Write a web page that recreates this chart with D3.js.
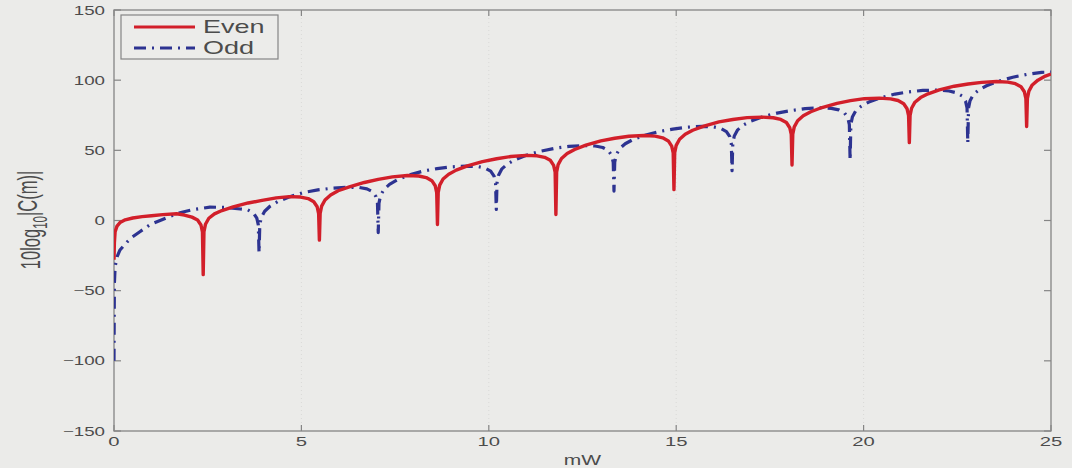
<!DOCTYPE html>
<html><head><meta charset="utf-8">
<script src="https://cdn.jsdelivr.net/npm/d3@7"></script>
<style>body{margin:0;background:#ebebe9;}svg{display:block;}</style>
</head><body>
<svg id="chart" width="1072" height="468"></svg>
<script>
const xTicks = [0, 5, 10, 15, 20, 25];
const yTicks = [-150, -100, -50, 0, 50, 100, 150];
const seriesNames = ["Even", "Odd"];
const xLabel = "mW";

const evenSeries = [[0,-28],[0.01,-16],[0.03,-8],[0.08,-4],[0.16,-1.5],[0.3,0.5],[0.5,1.8],[0.75,2.8],[1.0,3.4],[1.3,4.2],[1.67,4.8],[1.88,3.9],[2.08,2.4],[2.23,0.4],[2.32,-3.2],[2.36,-8.1],[2.38,-38.6],[2.40,-7.9],[2.44,-2.7],[2.53,1.6],[2.68,4.7],[2.88,7.1],[3.18,9.7],[3.58,12.5],[3.95,14.3],[4.33,16.1],[4.68,17],[4.98,16.7],[5.18,15.6],[5.33,13.4],[5.42,9.8],[5.46,4.9],[5.48,-14],[5.50,5],[5.54,10.2],[5.63,14.6],[5.78,18.2],[5.98,21.2],[6.28,23.9],[6.68,27.1],[7.05,29.3],[7.43,31.1],[7.83,32.1],[8.13,31.7],[8.33,30.6],[8.48,28.4],[8.57,24.8],[8.61,19.9],[8.63,-2.9],[8.65,20],[8.69,25.2],[8.78,29.6],[8.93,33],[9.13,35.9],[9.43,38.9],[9.83,41.9],[10.21,44],[10.59,45.6],[10.99,46.4],[11.29,46.1],[11.49,45],[11.64,42.9],[11.73,39.3],[11.77,34.5],[11.79,4.3],[11.81,34.6],[11.85,39.8],[11.94,44.2],[12.09,47.7],[12.29,50.6],[12.59,53.7],[12.99,56.7],[13.36,58.6],[13.74,60],[14.14,60.6],[14.44,60.1],[14.64,58.9],[14.79,56.7],[14.88,53],[14.92,48.2],[14.94,22],[14.96,48.3],[15.0,53.5],[15.09,57.9],[15.24,61.4],[15.44,64.3],[15.74,67.3],[16.14,70.3],[16.51,72],[16.89,73.3],[17.29,73.7],[17.59,73.2],[17.79,72],[17.94,69.8],[18.03,66.1],[18.07,61.3],[18.09,39.5],[18.11,61.5],[18.15,66.7],[18.24,71.1],[18.39,74.6],[18.59,77.5],[18.89,80.5],[19.29,83.5],[19.65,85.4],[20.02,86.8],[20.42,87.2],[20.72,86.7],[20.92,85.5],[21.07,83.2],[21.16,79.6],[21.2,74.7],[21.22,55.5],[21.24,74.8],[21.28,80],[21.37,84.3],[21.52,87.6],[21.72,90.3],[22.02,93.1],[22.42,95.7],[22.79,97.3],[23.15,98.4],[23.55,99],[23.85,98.6],[24.05,97.5],[24.2,95.3],[24.29,91.7],[24.33,86.9],[24.35,67],[24.37,87],[24.41,92.2],[24.5,96.6],[24.65,100],[24.85,102.9],[25,104.4]];

const oddSeries = [[0,-100],[0.01,-45],[0.03,-33],[0.08,-26],[0.16,-21],[0.29,-17],[0.45,-12.5],[0.69,-8],[0.96,-3],[1.23,0],[1.5,3],[1.76,5.5],[2.1,7.8],[2.56,9.5],[3.0,9.3],[3.37,8.2],[3.57,7.6],[3.72,5.4],[3.81,1.7],[3.85,-3.1],[3.87,-23],[3.89,-3],[3.93,2.2],[4.02,6.6],[4.17,10.3],[4.37,13.5],[4.67,16.8],[5.07,20],[5.44,21.8],[5.85,23.1],[6.25,23.7],[6.55,23.5],[6.75,22.5],[6.9,20.5],[6.99,17],[7.03,12.1],[7.05,-8.6],[7.07,12.4],[7.11,17.6],[7.2,22.1],[7.35,25.7],[7.55,28.8],[7.85,32.2],[8.25,35.2],[8.62,37],[9.0,38.2],[9.4,38.8],[9.7,38.5],[9.9,37.4],[10.05,35.2],[10.14,31.6],[10.18,26.8],[10.2,7.9],[10.22,27],[10.26,32.3],[10.35,36.8],[10.5,40.3],[10.7,43.3],[11.0,46.5],[11.4,49.5],[11.77,51.5],[12.14,52.8],[12.54,53.4],[12.84,53.1],[13.04,52],[13.19,49.9],[13.28,46.3],[13.32,41.4],[13.34,21],[13.36,41.6],[13.4,46.8],[13.49,51.2],[13.64,54.7],[13.84,57.6],[14.14,60.6],[14.54,63.4],[14.91,65.1],[15.29,66.5],[15.69,67.1],[15.99,66.8],[16.19,65.6],[16.34,63.4],[16.43,59.7],[16.47,54.9],[16.49,35.5],[16.51,55],[16.55,60.2],[16.64,64.6],[16.79,68],[16.99,70.8],[17.29,73.7],[17.69,76.5],[18.06,78.3],[18.44,79.7],[18.84,80.3],[19.14,79.9],[19.34,78.8],[19.49,76.7],[19.58,73.1],[19.62,68.3],[19.64,43],[19.66,68.4],[19.7,73.7],[19.79,78.1],[19.94,81.5],[20.14,84.4],[20.44,87.3],[20.84,90.1],[21.21,91.7],[21.58,92.7],[21.98,92.9],[22.28,92.3],[22.48,91],[22.63,88.7],[22.72,85],[22.76,80.2],[22.78,55],[22.8,80.3],[22.84,85.4],[22.93,89.8],[23.08,93.1],[23.28,96],[23.58,99.1],[23.98,102.1],[24.35,104.1],[24.75,105.6],[25,105.7]];

const W = 1072, H = 468;
const L = 114, R = 1051, T = 10, B = 431;
const SX = 1.5; // horizontal text stretch seen in the picture
const font = "'Liberation Sans', Arial, Helvetica, sans-serif";
const axisCol = "#858585", textCol = "#4c4c4c";
const redCol = "#d21f2a", blueCol = "#2d3391";

const svg = d3.select("#chart");
svg.append("rect").attr("width", W).attr("height", H).attr("fill", "#ebebe9");

const x = d3.scaleLinear().domain([0, 25]).range([L, R]);
const y = d3.scaleLinear().domain([-150, 150]).range([B, T]);

// faint vertical dotted lines at x ticks
svg.append("g").selectAll("line").data(xTicks.slice(1, -1)).join("line")
  .attr("x1", d => x(d)).attr("x2", d => x(d)).attr("y1", T).attr("y2", B)
  .attr("stroke", "#d9d9d7").attr("stroke-width", 1).attr("stroke-dasharray", "1,3");

// box
svg.append("rect").attr("x", L).attr("y", T).attr("width", R - L).attr("height", B - T)
  .attr("fill", "none").attr("stroke", axisCol).attr("stroke-width", 1.3);

// ticks (inward, both sides)
const tk = svg.append("g").attr("stroke", axisCol).attr("stroke-width", 1.2);
xTicks.forEach(v => {
  tk.append("line").attr("x1", x(v)).attr("x2", x(v)).attr("y1", B).attr("y2", B - 6);
  tk.append("line").attr("x1", x(v)).attr("x2", x(v)).attr("y1", T).attr("y2", T + 6);
});
yTicks.forEach(v => {
  tk.append("line").attr("x1", L).attr("x2", L + 7).attr("y1", y(v)).attr("y2", y(v));
  tk.append("line").attr("x1", R).attr("x2", R - 7).attr("y1", y(v)).attr("y2", y(v));
});

// tick labels
svg.append("g").selectAll("text").data(yTicks).join("text")
  .attr("transform", d => `translate(105,${y(d)}) scale(${SX},1)`)
  .attr("dy", "0.36em").attr("text-anchor", "end")
  .attr("font-family", font).attr("font-size", 12.5).attr("fill", textCol)
  .text(d => d < 0 ? "\u2212" + Math.abs(d) : String(d));

svg.append("g").selectAll("text").data(xTicks).join("text")
  .attr("transform", d => `translate(${x(d)},446) scale(${SX},1)`)
  .attr("text-anchor", "middle")
  .attr("font-family", font).attr("font-size", 13.5).attr("fill", textCol)
  .text(d => String(d));

// axis titles
svg.append("text").attr("transform", `translate(${x(12.5)},465) scale(${SX},1)`)
  .attr("text-anchor", "middle").attr("font-family", font).attr("font-size", 14).attr("fill", textCol)
  .text(xLabel);

const yl = svg.append("text").attr("transform", `translate(40,220) scale(1.7,1) rotate(-90)`)
  .attr("text-anchor", "middle").attr("font-family", font).attr("font-size", 16.5).attr("fill", textCol);
yl.append("tspan").text("10log");
yl.append("tspan").attr("dy", "0.35em").attr("font-size", 11.5).text("10");
yl.append("tspan").attr("dy", "-0.35em").text("|C(m)|");

// lines
const line = d3.line().x(d => x(d[0])).y(d => y(d[1]));
svg.append("clipPath").attr("id", "clip").append("rect")
  .attr("x", L).attr("y", T).attr("width", R - L).attr("height", B - T);

svg.append("path").datum(oddSeries).attr("d", line).attr("clip-path", "url(#clip)")
  .attr("fill", "none").attr("stroke", blueCol).attr("stroke-width", 3.2)
  .attr("stroke-dasharray", "12,6,2,6").attr("stroke-linejoin", "round");

svg.append("path").datum(evenSeries).attr("d", line).attr("clip-path", "url(#clip)")
  .attr("fill", "none").attr("stroke", redCol).attr("stroke-width", 3.4)
  .attr("stroke-linejoin", "round");

// legend
const lg = svg.append("g");
lg.append("rect").attr("x", 121).attr("y", 15).attr("width", 157).attr("height", 44)
  .attr("fill", "#ececea").attr("stroke", axisCol).attr("stroke-width", 1.2);
const lgItems = [
  {name: seriesNames[0], col: redCol, dash: null, yy: 27},
  {name: seriesNames[1], col: blueCol, dash: "12,6,2,6", yy: 48}
];
lgItems.forEach(it => {
  lg.append("line").attr("x1", 134).attr("x2", 195).attr("y1", it.yy).attr("y2", it.yy)
    .attr("stroke", it.col).attr("stroke-width", 3).attr("stroke-dasharray", it.dash);
  lg.append("text").attr("transform", `translate(203,${it.yy}) scale(${SX},1)`)
    .attr("dy", "0.36em").attr("font-family", font).attr("font-size", 18).attr("fill", textCol)
    .text(it.name);
});
</script>
</body></html>
